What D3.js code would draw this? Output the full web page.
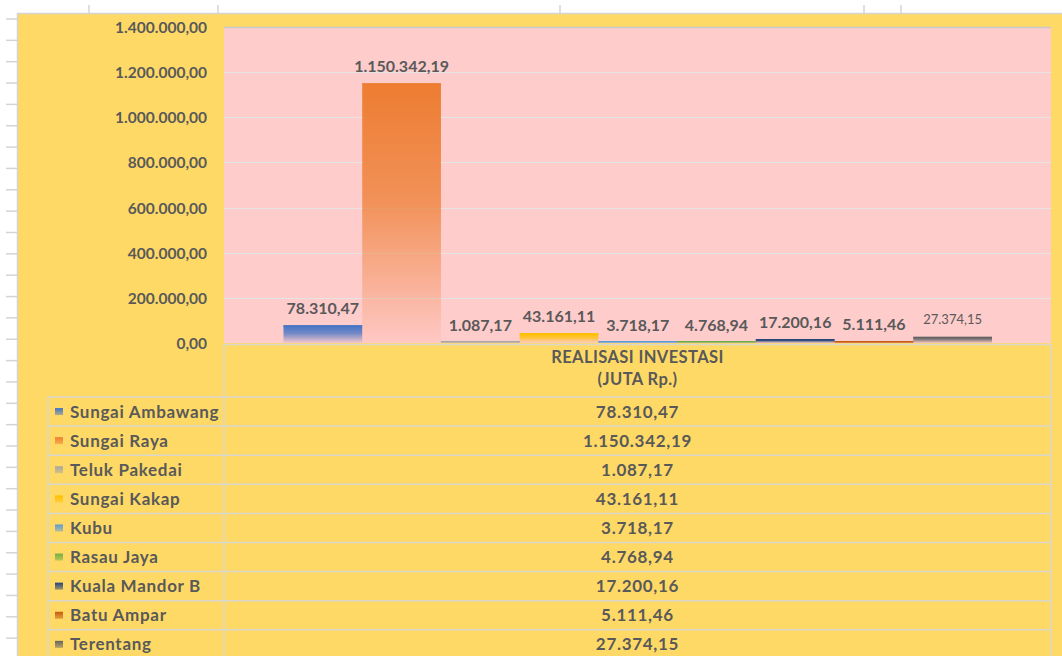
<!DOCTYPE html>
<html><head><meta charset="utf-8">
<script src="https://cdn.jsdelivr.net/npm/d3@7"></script>
<style>
html,body{margin:0;padding:0;background:#fff;}
svg{display:block;}
text{font-family:Lato,"Open Sans",sans-serif;}
</style></head>
<body>
<svg id="chart" width="1062" height="656"></svg>
<script>
const categories = ["Sungai Ambawang","Sungai Raya","Teluk Pakedai","Sungai Kakap","Kubu","Rasau Jaya","Kuala Mandor B","Batu Ampar","Terentang"];
const values = [78310.47, 1150342.19, 1087.17, 43161.11, 3718.17, 4768.94, 17200.16, 5111.46, 27374.15];
const yTicks = [0, 200000, 400000, 600000, 800000, 1000000, 1200000, 1400000];
const headerLines = ["REALISASI INVESTASI", "(JUTA Rp.)"];
const colors = ["#4472C4","#ED7D31","#A5A5A5","#FFC000","#5B9BD5","#70AD47","#264478","#C55A11","#636363"];

const loc = d3.formatLocale({decimal:",", thousands:".", grouping:[3], currency:["",""]});
const fmt = loc.format(",.2f");

const svg = d3.select("#chart");
const defs = svg.append("defs");
colors.forEach((c,i)=>{
  const g = defs.append("linearGradient").attr("id","g"+i).attr("x1",0).attr("y1",0).attr("x2",0).attr("y2",1);
  g.append("stop").attr("offset","0%").attr("stop-color",c).attr("stop-opacity",1);
  g.append("stop").attr("offset","45%").attr("stop-color",c).attr("stop-opacity",0.75);
  g.append("stop").attr("offset","100%").attr("stop-color",c).attr("stop-opacity",0.05);
  const k = defs.append("linearGradient").attr("id","k"+i).attr("x1",0).attr("y1",0).attr("x2",0).attr("y2",1);
  k.append("stop").attr("offset","0%").attr("stop-color",c).attr("stop-opacity",1);
  k.append("stop").attr("offset","100%").attr("stop-color",c).attr("stop-opacity",0.45);
});

// spreadsheet frame decorations
const gridGray = "#D4D4D4";
svg.append("rect").attr("x",18).attr("y",14).attr("width",1044).attr("height",642).attr("fill","#FFD966");
svg.append("line").attr("x1",17).attr("x2",1062).attr("y1",13.5).attr("y2",13.5).attr("stroke",gridGray).attr("stroke-width",1.5);
svg.append("line").attr("x1",17.5).attr("x2",17.5).attr("y1",13).attr("y2",656).attr("stroke",gridGray).attr("stroke-width",1.5);
[89, 218, 560, 864, 901].forEach(x=>{
  svg.append("line").attr("x1",x).attr("x2",x).attr("y1",5).attr("y2",13).attr("stroke",gridGray).attr("stroke-width",1.5);
});
d3.range(19, 656, 21.35).forEach(y=>{
  svg.append("line").attr("x1",6).attr("x2",17).attr("y1",y).attr("y2",y).attr("stroke",gridGray).attr("stroke-width",1.5);
});

// plot area
const plotL = 224, plotR = 1051, plotT = 27, plotB = 343;
svg.append("rect").attr("x",plotL).attr("y",plotT).attr("width",plotR-plotL).attr("height",plotB-plotT).attr("fill","#FFCCCC");

const y = d3.scaleLinear().domain([0,1400000]).range([plotB, plotT]);
const x = d3.scaleBand().domain(categories).range([283.5, 992]).padding(0);

svg.append("g").selectAll("line").data(yTicks.slice(1)).join("line")
  .attr("x1",plotL).attr("x2",plotR).attr("y1",d=>Math.round(y(d))+0.5).attr("y2",d=>Math.round(y(d))+0.5)
  .attr("stroke",d=>d===1400000?"#C9C9C9":"#E8E4E4").attr("stroke-width",d=>d===1400000?1.5:1);

const yAxis = d3.axisLeft(y).tickValues(yTicks).tickSize(0).tickPadding(0).tickFormat(fmt);
const ag = svg.append("g").attr("transform","translate(207,0)").call(yAxis);
ag.select(".domain").remove();
ag.selectAll("text").attr("font-family","Lato").attr("font-weight","bold").attr("font-size","15.5px").attr("fill","#595959").attr("dy","0.35em");

// bars
const barTop = d => Math.min(y(d), plotB - 2);
svg.append("g").selectAll("rect").data(values).join("rect")
  .attr("x",(d,i)=>x(categories[i]))
  .attr("width",x.bandwidth())
  .attr("y",d=>barTop(d))
  .attr("height",d=>plotB - barTop(d))
  .attr("fill",(d,i)=>"url(#g"+i+")");
svg.append("g").selectAll("rect").data(values).join("rect")
  .attr("x",(d,i)=>x(categories[i]))
  .attr("width",x.bandwidth())
  .attr("y",d=>barTop(d))
  .attr("height",1.5)
  .attr("fill",(d,i)=>colors[i]);

// data labels
svg.append("g").selectAll("text").data(values).join("text")
  .attr("x",(d,i)=>x(categories[i])+x.bandwidth()/2)
  .attr("y",d=>y(d)-17)
  .attr("dy","0.35em")
  .attr("text-anchor","middle")
  .attr("font-weight",(d,i)=>i===8?"normal":"bold")
  .attr("font-size",(d,i)=>i===8?"13px":"16px")
  .attr("fill","#595959")
  .text(d=>fmt(d));

// data table
const tb = svg.append("g");
const tStroke = "#D9D6CC";
const hdrT = 344.5, rowT = 397, rowH = 29.1, tblL = 48, colL = 224, tblR = 1051;
tb.append("line").attr("x1",colL).attr("x2",tblR).attr("y1",hdrT).attr("y2",hdrT).attr("stroke",tStroke).attr("stroke-width",1.5);
tb.append("line").attr("x1",colL).attr("x2",colL).attr("y1",hdrT).attr("y2",656).attr("stroke",tStroke).attr("stroke-width",1.5);
tb.append("line").attr("x1",tblR).attr("x2",tblR).attr("y1",hdrT).attr("y2",656).attr("stroke",tStroke).attr("stroke-width",1.5);
tb.append("line").attr("x1",tblL).attr("x2",tblL).attr("y1",rowT).attr("y2",656).attr("stroke",tStroke).attr("stroke-width",1.5);
d3.range(categories.length+1).forEach(i=>{
  const yy = rowT + i*rowH;
  tb.append("line").attr("x1",tblL).attr("x2",tblR).attr("y1",yy).attr("y2",yy).attr("stroke",tStroke).attr("stroke-width",1.5);
});
tb.selectAll("text.hdr").data(headerLines).join("text").attr("class","hdr")
  .attr("x",(colL+tblR)/2).attr("y",(d,i)=>357+i*22).attr("dy","0.35em")
  .attr("text-anchor","middle").attr("font-weight","bold").attr("font-size","16.5px")
  .attr("letter-spacing","0.4px").attr("fill","#595959")
  .text(d=>d);
categories.forEach((c,i)=>{
  const cy = rowT + i*rowH + rowH/2;
  tb.append("rect").attr("x",55).attr("y",cy-3.5).attr("width",8).attr("height",7).attr("fill","url(#k"+i+")");
  tb.append("text").attr("x",70).attr("y",cy).attr("dy","0.35em")
    .attr("font-weight","bold").attr("font-size","17px").attr("letter-spacing","0.7px").attr("fill","#595959").text(c);
  tb.append("text").attr("x",(colL+tblR)/2).attr("y",cy).attr("dy","0.35em").attr("text-anchor","middle")
    .attr("font-weight","bold").attr("font-size","17px").attr("letter-spacing","0.7px").attr("fill","#595959").text(fmt(values[i]));
});
</script>
</body></html>
